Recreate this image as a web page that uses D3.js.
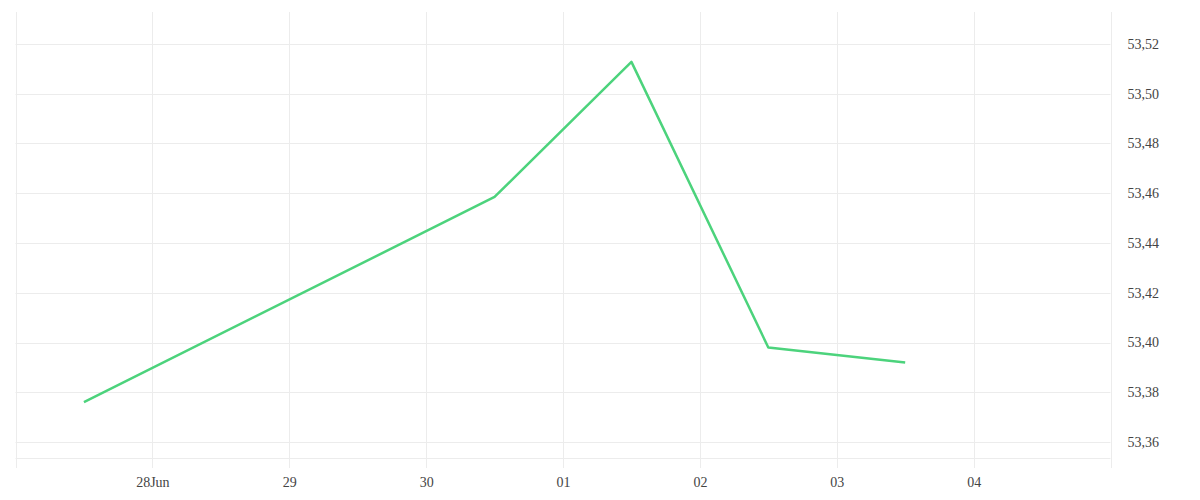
<!DOCTYPE html>
<html>
<head>
<meta charset="utf-8">
<script src="https://cdn.jsdelivr.net/npm/d3@7"></script>
<style>
  html, body { margin: 0; padding: 0; background: #fff; }
  svg text { font-family: "Liberation Serif", "DejaVu Serif", serif; font-size: 14px; fill: #444; }
</style>
</head>
<body>
<svg id="chart" width="1200" height="500"></svg>
<script>
// Data
const dates = ["2023-06-27T12:00", "2023-06-30T12:00", "2023-07-01T12:00", "2023-07-02T12:00", "2023-07-03T12:00"];
const values = [53.376, 53.4585, 53.5128, 53.398, 53.392];
const yTicks = [53.36, 53.38, 53.40, 53.42, 53.44, 53.46, 53.48, 53.50, 53.52];
const xTicks = ["2023-06-28", "2023-06-29", "2023-06-30", "2023-07-01", "2023-07-02", "2023-07-03", "2023-07-04"];
const xTickLabels = ["28Jun", "29", "30", "01", "02", "03", "04"];

(function () {
const svg = d3.select("#chart");
const mLeft = 15.5, mRight = 1110.5, mTop = 12, mBottom = 458, gridBottom = 468;

const parse = d3.timeParse("%Y-%m-%dT%H:%M");
const parseDay = d3.timeParse("%Y-%m-%d");

const x = d3.scaleTime()
  .domain([parseDay("2023-06-27"), parseDay("2023-07-05")])
  .range([mLeft, mRight]);
const y = d3.scaleLinear()
  .domain([53.35357, 53.53286])
  .range([mBottom, mTop]);

const grid = "#ececec";

// vertical grid lines (plot edges + day ticks)
svg.append("g").selectAll("line")
  .data([x.domain()[0], ...xTicks.map(parseDay), x.domain()[1]])
  .join("line")
  .attr("x1", d => Math.round(x(d)) + 0.5).attr("x2", d => Math.round(x(d)) + 0.5)
  .attr("y1", mTop).attr("y2", gridBottom)
  .attr("stroke", grid).attr("stroke-width", 1);

// horizontal grid lines
svg.append("g").selectAll("line")
  .data(yTicks)
  .join("line")
  .attr("x1", mLeft).attr("x2", mRight)
  .attr("y1", d => Math.round(y(d)) + 0.5).attr("y2", d => Math.round(y(d)) + 0.5)
  .attr("stroke", grid).attr("stroke-width", 1);

// bottom line
svg.append("line")
  .attr("x1", mLeft).attr("x2", mRight)
  .attr("y1", mBottom + 0.5).attr("y2", mBottom + 0.5)
  .attr("stroke", grid).attr("stroke-width", 1);

// y axis labels (right)
const fmt = v => d3.format(".2f")(v).replace(".", ",");
const yAxis = d3.axisRight(y).tickValues(yTicks).tickFormat(fmt).tickSize(0).tickPadding(0);
const gy = svg.append("g").attr("transform", `translate(${mRight + 17},0)`).call(yAxis);
gy.select(".domain").remove();
gy.selectAll("text").attr("fill", "#444").style("font-size", "14px").attr("dy", "0.32em");

// x axis labels
const xAxis = d3.axisBottom(x).tickValues(xTicks.map(parseDay))
  .tickFormat((d, i) => xTickLabels[i]).tickSize(0).tickPadding(0);
const gx = svg.append("g").attr("transform", `translate(0,${gridBottom + 9})`).call(xAxis);
gx.select(".domain").remove();
gx.selectAll("text").attr("fill", "#444").style("font-size", "14px").attr("dy", "0.71em");

// line
const line = d3.line()
  .x((d, i) => x(parse(dates[i])))
  .y(d => y(d));
svg.append("path")
  .datum(values)
  .attr("d", line)
  .attr("fill", "none")
  .attr("stroke", "#4cd37c")
  .attr("stroke-width", 2.5)
  .attr("stroke-linejoin", "round");
})();
</script>
</body>
</html>
